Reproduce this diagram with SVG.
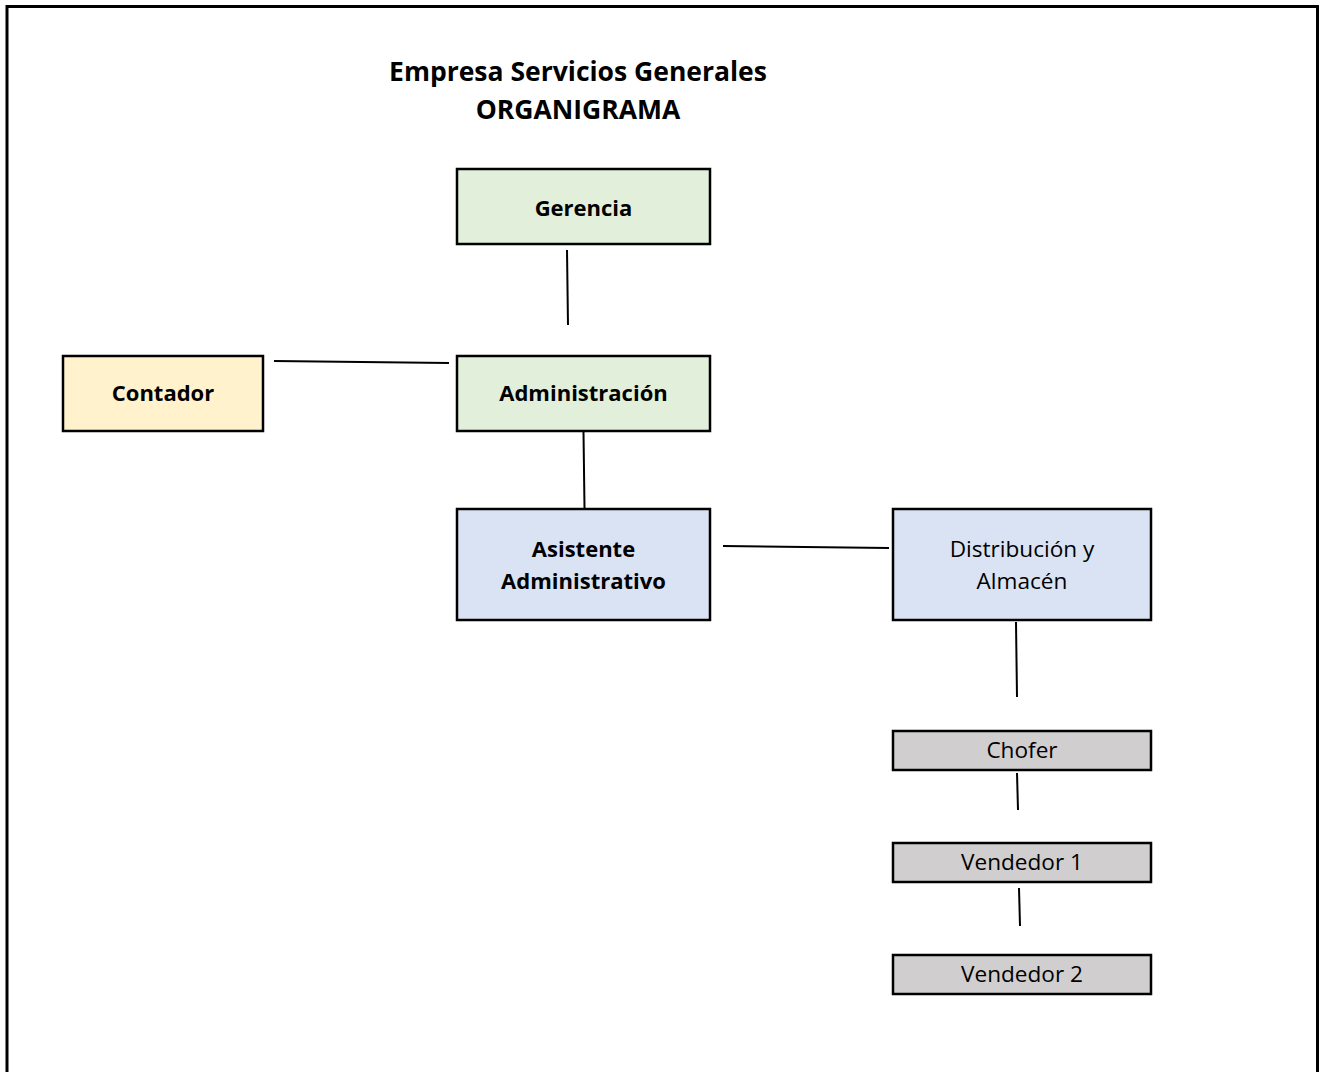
<svg xmlns="http://www.w3.org/2000/svg" width="1324" height="1072" viewBox="0 0 1324 1072">
  <style>
    .box { stroke: #000; stroke-width: 2.5; }
    .green { fill: #E2EFDA; }
    .yellow { fill: #FFF2CC; }
    .blue { fill: #DAE3F3; }
    .gray { fill: #D0CECE; }
    .lbl { font-family: "Open Sans", "Liberation Sans", sans-serif; font-size: 22.6px; fill: #000; text-anchor: middle; }
    .b { font-weight: bold; font-size: 22px; }
    .title { font-family: "Open Sans", "Liberation Sans", sans-serif; font-size: 26.5px; font-weight: bold; fill: #000; text-anchor: middle; }
    .conn line { stroke: #000; stroke-width: 2; fill: none; }
  </style>
  <rect x="0" y="0" width="1324" height="1072" fill="#fff"/>
  <path d="M7 1072 V6.5 H1317.5 V1072" fill="none" stroke="#000" stroke-width="3"/>

  <g id="title">
    <text class="title" x="578" y="81">Empresa Servicios Generales</text>
    <text class="title" x="578" y="119">ORGANIGRAMA</text>
  </g>

  <g id="connectors" class="conn">
    <line x1="567" y1="250" x2="568" y2="325"/>
    <line x1="274" y1="361" x2="449" y2="363"/>
    <line x1="583.5" y1="432" x2="584.5" y2="508"/>
    <line x1="723" y1="546" x2="889" y2="548"/>
    <line x1="1016" y1="622" x2="1017" y2="697"/>
    <line x1="1017" y1="773" x2="1018" y2="810"/>
    <line x1="1019" y1="888" x2="1020" y2="926"/>
  </g>

  <g id="gerencia">
    <rect class="box green" x="457" y="169" width="253" height="75"/>
    <text class="lbl b" x="583.5" y="216">Gerencia</text>
  </g>
  <g id="administracion">
    <rect class="box green" x="457" y="356" width="253" height="75"/>
    <text class="lbl b" x="583.5" y="401">Administración</text>
  </g>
  <g id="contador">
    <rect class="box yellow" x="63" y="356" width="200" height="75"/>
    <text class="lbl b" x="163" y="401">Contador</text>
  </g>
  <g id="asistente">
    <rect class="box blue" x="457" y="509" width="253" height="111"/>
    <text class="lbl b" x="583.5" y="557">Asistente</text>
    <text class="lbl b" x="583.5" y="589">Administrativo</text>
  </g>
  <g id="distribucion">
    <rect class="box blue" x="893" y="509" width="258" height="111"/>
    <text class="lbl" x="1022" y="557">Distribución y</text>
    <text class="lbl" x="1022" y="589">Almacén</text>
  </g>
  <g id="chofer">
    <rect class="box gray" x="893" y="731" width="258" height="39"/>
    <text class="lbl" x="1022" y="758">Chofer</text>
  </g>
  <g id="vendedor1">
    <rect class="box gray" x="893" y="843" width="258" height="39"/>
    <text class="lbl" x="1022" y="870">Vendedor 1</text>
  </g>
  <g id="vendedor2">
    <rect class="box gray" x="893" y="955" width="258" height="39"/>
    <text class="lbl" x="1022" y="982">Vendedor 2</text>
  </g>
</svg>
